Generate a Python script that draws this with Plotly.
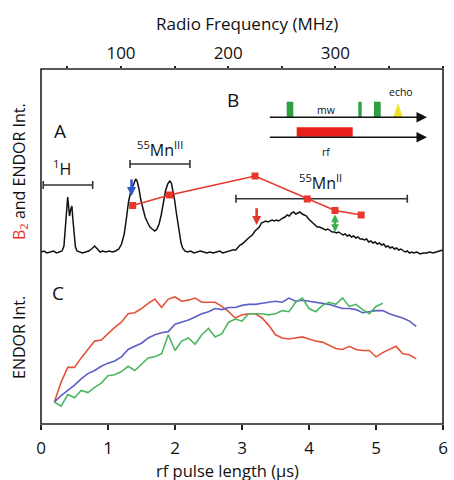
import plotly.graph_objects as go

# ---------------- Panel A: ENDOR spectrum (radio frequency, MHz) ----------------
spec_freq = [25.5, 28, 31, 34, 37, 40, 43, 45, 46.8, 48.5, 49.5, 50.3, 51.2, 52.0, 53.0, 54.2,
             55.2, 56.3, 57.5, 59, 61, 64, 67, 70, 72.5, 75.5, 78, 80.5, 83, 86, 89, 92, 95, 98,
             100.5, 103, 105, 107, 109, 111, 112.5, 113.7, 115, 116.8, 118.5, 120.5, 122.5, 125,
             127, 129, 131.5, 133.5, 135.5, 137.5, 139.5, 141.5, 143.5, 145.5, 147, 148.5, 150,
             151.5, 153, 154.5, 156, 157.5, 159.5, 162, 165, 168, 171, 174, 177, 180, 183, 186,
             189, 192, 195, 198, 201, 204, 207, 209, 211, 213, 215.5, 218, 220, 222.5, 225, 227,
             229, 231, 233, 235, 237, 239, 241, 243, 245, 247, 249, 251, 253, 255, 257, 259, 261,
             263, 265, 267, 269, 271, 273, 275, 277, 279, 281, 283, 285, 287, 289, 291, 293, 295,
             297, 299, 301, 303, 305, 307, 309, 311, 313, 315, 317, 319, 321, 323, 325, 327, 329,
             331, 333, 335, 337, 339, 341, 343, 345, 347, 349, 351, 353, 355, 357, 359, 361, 363,
             365, 367, 369, 371, 373, 376, 379, 382, 385, 388, 391, 394, 397, 400]
spec_int = [0.00, 0.01, -0.01, 0.00, 0.01, -0.01, 0.00, 0.01, 0.06, 0.35, 0.50, 0.55, 0.45, 0.36,
            0.42, 0.46, 0.32, 0.15, 0.05, 0.01, 0.00, -0.01, 0.00, 0.01, 0.03, 0.06, 0.03, 0.00,
            0.01, 0.00, 0.01, 0.00, 0.01, 0.03, 0.08, 0.18, 0.33, 0.50, 0.60, 0.66, 0.71, 0.73,
            0.71, 0.63, 0.52, 0.43, 0.35, 0.29, 0.25, 0.23, 0.21, 0.23, 0.28, 0.37, 0.50, 0.61,
            0.68, 0.71, 0.69, 0.62, 0.52, 0.40, 0.28, 0.17, 0.09, 0.04, 0.01, 0.00, 0.01, -0.01,
            0.00, 0.01, 0.00, -0.01, 0.00, -0.01, 0.00, 0.01, -0.01, 0.00, 0.01, 0.02, 0.02, 0.05,
            0.07, 0.08, 0.11, 0.13, 0.15, 0.17, 0.21, 0.23, 0.25, 0.29, 0.30, 0.31, 0.30, 0.31,
            0.32, 0.31, 0.32, 0.31, 0.33, 0.34, 0.35, 0.37, 0.36, 0.39, 0.40, 0.38, 0.39, 0.40,
            0.38, 0.37, 0.36, 0.33, 0.31, 0.29, 0.27, 0.25, 0.25, 0.24, 0.23, 0.22, 0.23, 0.21,
            0.20, 0.20, 0.19, 0.20, 0.18, 0.17, 0.18, 0.16, 0.17, 0.15, 0.16, 0.14, 0.15, 0.13,
            0.13, 0.12, 0.13, 0.10, 0.11, 0.09, 0.10, 0.08, 0.09, 0.07, 0.08, 0.05, 0.06, 0.04,
            0.05, 0.03, 0.04, 0.02, 0.03, 0.01, 0.00, 0.01, -0.01, 0.00, -0.01, 0.00, -0.02, -0.01,
            -0.01, 0.00, -0.01, 0.00, 0.01, 0.02]

# B2 strength at selected frequencies
b2_freq = [110.9, 145.3, 225.0, 273.7, 299.6, 324.0]
b2_val = [0.465, 0.57, 0.76, 0.53, 0.415, 0.37]

# nucleus ranges (MHz) and label text
nuc_labels = ["<sup>1</sup>H", "<sup>55</sup>Mn<sup>III</sup>", "<sup>55</sup>Mn<sup>II</sup>"]
nuc_lo = [27.5, 108.4, 207.2]
nuc_hi = [73.6, 164.3, 367.0]
nuc_level = [0.67, 0.88, 0.533]
nuc_label_freq = [44.9, 136.4, 285.6]
nuc_label_level = [0.84, 1.03, 0.70]

# frequencies used for the nutation curves (arrow markers)
arrow_freq = [109.8, 226.5, 299.6]
arrow_top = [0.74, 0.453, 0.39]
arrow_tip = [0.56, 0.27, 0.20]
arrow_double = [False, False, True]

# ---------------- Panel C: ENDOR intensity vs rf pulse length (us) ----------------
pulse_len = [round(0.2 + 0.1 * i, 1) for i in range(55)]  # 0.2 ... 5.6 us grid
red_int = [0.00, 0.19, 0.33, 0.33, 0.42, 0.50, 0.58, 0.59, 0.65, 0.71, 0.76, 0.84, 0.85, 0.89,
           0.94, 0.98, 0.90, 0.98, 1.00, 0.96, 0.97, 0.99, 0.95, 0.95, 0.95, 0.91, 0.86, 0.80,
           0.83, 0.84, 0.84, 0.80, 0.73, 0.64, 0.61, 0.60, 0.61, 0.62, 0.60, 0.58, 0.57, 0.54,
           0.51, 0.50, 0.53, 0.50, 0.49, 0.49, 0.43, 0.47, 0.50, 0.53, 0.46, 0.45, 0.41]
blue_int = [0.00, 0.06, 0.11, 0.16, 0.22, 0.27, 0.30, 0.34, 0.37, 0.39, 0.43, 0.50, 0.53, 0.56,
            0.61, 0.64, 0.66, 0.67, 0.74, 0.76, 0.78, 0.81, 0.84, 0.86, 0.89, 0.88, 0.90, 0.90,
            0.92, 0.93, 0.93, 0.94, 0.95, 0.96, 0.95, 0.99, 0.96, 0.97, 0.96, 0.95, 0.94, 0.93,
            0.91, 0.89, 0.89, 0.88, 0.85, 0.86, 0.87, 0.87, 0.84, 0.82, 0.80, 0.77, 0.72]
green_int = [0.00, -0.04, 0.07, 0.04, 0.11, 0.09, 0.14, 0.18, 0.25, 0.26, 0.29, 0.34, 0.30, 0.36,
             0.42, 0.43, 0.46, 0.64, 0.49, 0.58, 0.61, 0.55, 0.64, 0.70, 0.62, 0.65, 0.76, 0.79,
             0.77, 0.84, 0.84, 0.84, 0.83, 0.84, 0.87, 0.86, 0.95, 0.99, 0.89, 0.86, 0.92, 0.95,
             0.93, 0.99, 0.91, 0.93, 0.88, 0.84, 0.91, 0.94]

time_ticks = [0, 1, 2, 3, 4, 5, 6]
freq_ticks = [50, 100, 150, 200, 250, 300, 350, 400]
freq_ticktext = ["", "100", "", "200", "", "300", "", "400"]

RED = "#e8362a"
CRED = "#e5533a"
BLUE = "#5b5fc7"
GREEN = "#4cb662"
FONT = "Open Sans"

# plot-area pixel geometry helpers (for the schematic and labels)
W, H = 454, 480
L, R, T, B = 41, 11, 69, 56
PW, PH = W - L - R, H - T - B


def px(x):
    return (x - L) / PW


def py(y):
    return (H - B - y) / PH


def paper_text(text, x, y, size, angle=0):
    return dict(x=px(x), y=py(y), xref="paper", yref="paper", text=text,
                xanchor="center", yanchor="middle", textangle=angle, showarrow=False,
                font=dict(family=FONT, size=size, color="#111111"))


fig = go.Figure()

# Panel C nutation curves
fig.add_trace(go.Scatter(x=pulse_len, y=red_int, mode="lines",
                         line=dict(color=CRED, width=1.6), xaxis="x", yaxis="y"))
fig.add_trace(go.Scatter(x=pulse_len, y=blue_int, mode="lines",
                         line=dict(color=BLUE, width=1.6), xaxis="x", yaxis="y"))
fig.add_trace(go.Scatter(x=pulse_len[:len(green_int)], y=green_int, mode="lines",
                         line=dict(color=GREEN, width=1.6), xaxis="x", yaxis="y"))

# Panel A spectrum
fig.add_trace(go.Scatter(x=spec_freq, y=spec_int, mode="lines",
                         line=dict(color="#111111", width=1.5), xaxis="x2", yaxis="y2"))

# nucleus range bars
fig.add_trace(go.Scatter(
    x=[(a + b) / 2 for a, b in zip(nuc_lo, nuc_hi)], y=nuc_level, mode="markers",
    marker=dict(size=1, opacity=0),
    error_x=dict(type="data", symmetric=True,
                 array=[(b - a) / 2 for a, b in zip(nuc_lo, nuc_hi)],
                 color="#333333", thickness=1.6, width=4),
    xaxis="x2", yaxis="y2"))

# B2 line
fig.add_trace(go.Scatter(x=b2_freq, y=b2_val, mode="lines+markers",
                         line=dict(color=RED, width=1.5),
                         marker=dict(symbol="square", size=7, color=RED),
                         xaxis="x2", yaxis="y2"))

annotations = []

# nucleus labels
for lab, f, v in zip(nuc_labels, nuc_label_freq, nuc_label_level):
    annotations.append(dict(x=f, y=v, xref="x2", yref="y2", text=lab, showarrow=False,
                            xanchor="center", yanchor="middle",
                            font=dict(family=FONT, size=16, color="#111111")))

# arrows marking frequencies
for f, top, tip, dbl, col in zip(arrow_freq, arrow_top, arrow_tip, arrow_double,
                                 ["#3458c8", RED, "#3cb050"]):
    hs = 0.6 if dbl else 0.7
    annotations.append(dict(x=f, y=tip, ax=f, ay=top, xref="x2", yref="y2",
                            axref="x2", ayref="y2", text="", showarrow=True,
                            arrowhead=2, arrowsize=hs, arrowwidth=2.6, arrowcolor=col,
                            startarrowhead=2, startarrowsize=hs,
                            arrowside="end+start" if dbl else "end"))

# panel letters
for letter, x, y in [("A", 60, 131), ("B", 233, 100), ("C", 58, 293)]:
    annotations.append(paper_text(letter, x, y, 19))

# axis titles
annotations.append(paper_text("Radio Frequency (MHz)", 247, 24, 17))
annotations.append(paper_text("rf pulse length (μs)", 227, 470, 16.5))
annotations.append(paper_text(
    f"<span style='color:{RED}'>B<sub>2</sub></span> and ENDOR Int.", 19, 172, 16, -90))
annotations.append(paper_text("ENDOR Int.", 19, 338, 16, -90))

# pulse-sequence schematic (inset B)
for y0 in [117.3, 137.3]:
    annotations.append(dict(x=px(427), y=py(y0), xref="paper", yref="paper", text="",
                            showarrow=True, ax=-(427 - 268.3), ay=0, arrowhead=2,
                            arrowsize=1.4, arrowwidth=1.5, arrowcolor="#111111"))
for txt, x, y in [("mw", 326.7, 110.5), ("rf", 326.7, 151.7), ("echo", 401, 91.5)]:
    annotations.append(paper_text(txt, x, y, 10.5))

shapes = [
    # frame
    dict(type="rect", xref="paper", yref="paper", x0=0, y0=0, x1=1, y1=1,
         line=dict(color="#222222", width=1.6), layer="above"),
]
for x0, x1, col in [(286.7, 293.3, "#2ea043"), (358.3, 361.7, "#2ea043"),
                    (374.0, 380.7, "#2ea043")]:
    shapes.append(dict(type="rect", xref="paper", yref="paper", x0=px(x0), x1=px(x1),
                       y0=py(117.3), y1=py(101.7), fillcolor=col, line=dict(width=0)))
shapes.append(dict(type="rect", xref="paper", yref="paper", x0=px(296.7), x1=px(352.7),
                   y0=py(136.7), y1=py(127.3), fillcolor="#e8201c", line=dict(width=0)))
shapes.append(dict(type="path", xref="paper", yref="paper",
                   path=f"M {px(393.3)} {py(117.3)} L {px(398)} {py(102.7)} "
                        f"L {px(402.7)} {py(117.3)} Z",
                   fillcolor="#f3e326", line=dict(width=0)))

fig.update_layout(
    width=W, height=H,
    margin=dict(l=L, r=R, t=T, b=B, autoexpand=False),
    paper_bgcolor="white", plot_bgcolor="white",
    showlegend=False,
    font=dict(family=FONT, size=16, color="#111111"),
    xaxis=dict(range=[0, 6], tickvals=time_ticks, ticks="outside", ticklen=5,
               tickwidth=1.5, tickcolor="#222222", showgrid=False, zeroline=False,
               showline=False, tickfont=dict(size=17), ticklabelstandoff=4,
               automargin=False),
    xaxis2=dict(range=[25.4, 400.3], overlaying="x", side="top", anchor="y",
                tickvals=freq_ticks, ticktext=freq_ticktext, ticks="outside",
                ticklen=2, tickwidth=1.5, tickcolor="#222222", showgrid=False,
                zeroline=False, showline=False, tickfont=dict(size=17),
                automargin=False),
    yaxis=dict(range=[-0.2095, 3.171], showticklabels=False, ticks="",
               showgrid=False, zeroline=False, showline=False, automargin=False),
    yaxis2=dict(range=[-1.72, 1.83], overlaying="y", showticklabels=False, ticks="",
                showgrid=False, zeroline=False, showline=False, automargin=False),
    annotations=annotations,
    shapes=shapes,
)

fig.write_html("out.html")
